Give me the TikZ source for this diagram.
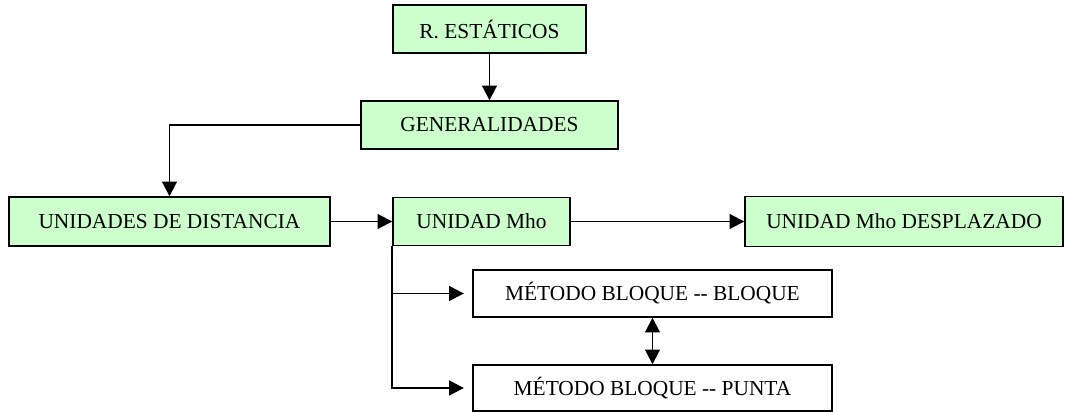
\documentclass[tikz,border=0pt]{standalone}
\usepackage{fontspec}
\setmainfont{Liberation Serif}
\usepackage{xcolor}
\usepackage{tikz}
\usetikzlibrary{arrows.meta, positioning, calc}
\definecolor{boxgreen}{HTML}{CCFFCC}

\begin{document}
\begin{tikzpicture}[x=0.025cm, y=-0.025cm, thick,
    greenbox/.style={rectangle, draw, line width=1pt, fill=boxgreen, inner sep=0pt, font=\fontsize{15.2}{18}\selectfont},
    whitebox/.style={rectangle, draw, line width=1pt, fill=white, inner sep=0pt, font=\fontsize{15.2}{18}\selectfont},
    link/.style={line width=1.4pt, -{Triangle[length=10.5pt, width=10.5pt]}},
    dlink/.style={line width=1.4pt, {Triangle[length=10.5pt, width=10.5pt]}-{Triangle[length=10.5pt, width=10.5pt]}}]
        \useasboundingbox (0,0) rectangle (1068,412);

        % Nodes
        \node (Static) [greenbox, minimum width=193*0.025cm, minimum height=48*0.025cm] at (489.5,29) {R. ESTÁTICOS};
        \node (General) [greenbox, minimum width=257*0.025cm, minimum height=48*0.025cm] at (489.5,125) {GENERALIDADES};
        \node (Distance) [greenbox, minimum width=321*0.025cm, minimum height=49*0.025cm] at (169.5,221.5) {UNIDADES DE DISTANCIA};
        \node (Mho) [greenbox, minimum width=177*0.025cm, minimum height=48*0.025cm] at (481.5,221.5) {UNIDAD Mho};
        \node (MhoShift) [greenbox, minimum width=318*0.025cm, minimum height=50*0.025cm] at (904,221.5) {UNIDAD Mho DESPLAZADO};
        \node (BlockBlock) [whitebox, minimum width=359*0.025cm, minimum height=47*0.025cm] at (652.5,293.5) {MÉTODO BLOQUE -{}- BLOQUE};
        \node (BlockTip) [whitebox, minimum width=359*0.025cm, minimum height=46*0.025cm] at (652.5,388) {MÉTODO BLOQUE -{}- PUNTA};

        % Connectors
        \draw[link] (Static) -- (General);
        \draw[link] (General.west) -| (Distance);
        \draw[link] (Distance) -- (Mho);
        \draw[link] (Mho) -- (MhoShift);
        \draw[link, shorten >=6pt] (Mho.south west) |- (BlockBlock);
        \draw[link, shorten >=6pt] (Mho.south west) |- (BlockTip);
        \draw[dlink] (BlockBlock) -- (BlockTip);
    \end{tikzpicture}
\end{document}
